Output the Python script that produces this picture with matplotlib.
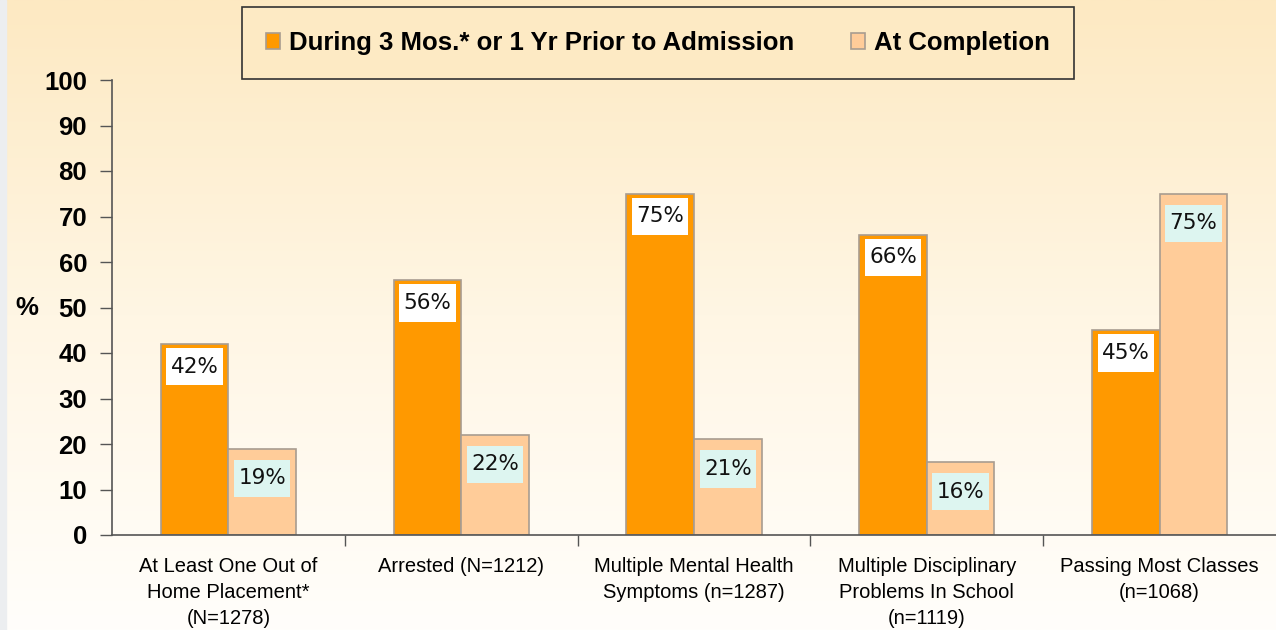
import matplotlib.pyplot as plt
import matplotlib.patches as patches
from matplotlib.colors import LinearSegmentedColormap
from matplotlib.path import Path
import numpy as np

# data
categories = [
    "At Least One Out of\nHome Placement*\n(N=1278)",
    "Arrested (N=1212)",
    "Multiple Mental Health\nSymptoms (n=1287)",
    "Multiple Disciplinary\nProblems In School\n(n=1119)",
    "Passing Most Classes\n(n=1068)",
]
before = [42, 56, 75, 66, 45]
after = [19, 22, 21, 16, 75]
series_names = ["During 3 Mos.* or 1 Yr Prior to Admission", "At Completion"]

orange = "#FF9900"
peach = "#FFCC99"
edge = "#A89C90"


def label_box(x0, y0, width, height, mutation_size):
    # tall, narrow padding like the original data labels
    px = 0.2 * mutation_size
    py = 0.4 * mutation_size
    return Path([(x0 - px, y0 - py), (x0 + width + px, y0 - py),
                 (x0 + width + px, y0 + height + py), (x0 - px, y0 + height + py),
                 (x0 - px, y0 - py)], closed=True)


fig = plt.figure(figsize=(12.76, 6.3), dpi=100)

# gradient background over the whole figure
bg = fig.add_axes([0, 0, 1, 1], zorder=-10)
grad_cmap = LinearSegmentedColormap.from_list("bg", ["#FFFEFB", "#FFF6E4", "#FDE9C2"])
bg.imshow(np.linspace(0, 1, 256).reshape(-1, 1), aspect="auto", cmap=grad_cmap,
          origin="lower", extent=[0, 1, 0, 1])
bg.add_patch(patches.Rectangle((0, 0), 0.005, 1, color="#ECEEF0", transform=bg.transAxes))
bg.axis("off")

ax = fig.add_axes([112 / 1276, 1 - 535 / 630, 1 - 112 / 1276, (535 - 80) / 630])
ax.patch.set_alpha(0)

x = np.arange(len(categories))
w = 0.29
b1 = ax.bar(x - w / 2, before, w, color=orange, edgecolor=edge, linewidth=1.2, label=series_names[0])
b2 = ax.bar(x + w / 2, after, w, color=peach, edgecolor=edge, linewidth=1.2, label=series_names[1])

for bars, vals, box_col, off in [(b1, before, "white", 5.0), (b2, after, "#DDF5F0", 6.5)]:
    for bar, v in zip(bars, vals):
        ax.text(bar.get_x() + bar.get_width() / 2, v - off, f"{v}%",
                ha="center", va="center", fontsize=15.5, family="DejaVu Sans", color="#111111",
                bbox=dict(boxstyle=label_box, facecolor=box_col, edgecolor="none"))

ax.set_xlim(-0.5, 4.5)
ax.set_ylim(0, 100)
ax.set_yticks(range(0, 101, 10))
ax.set_yticklabels([str(v) for v in range(0, 101, 10)], fontsize=18.5, fontweight="bold",
                   family="Liberation Sans")
ax.tick_params(axis="y", length=9, width=1, color="#555555", pad=9)

ax.set_xticks(x)
ax.set_xticklabels(categories, fontsize=14.5, family="Liberation Sans", linespacing=1.45)
ax.tick_params(axis="x", which="major", length=0, pad=16)
ax.set_xticks(np.arange(0.5, 4.5, 1), minor=True)
ax.tick_params(axis="x", which="minor", length=8, width=1, color="#555555")

for s in ["top", "right"]:
    ax.spines[s].set_visible(False)
for s in ["left", "bottom"]:
    ax.spines[s].set_color("#555555")
    ax.spines[s].set_linewidth(1.2)

fig.text(27 / 1276, 1 - 308 / 630, "%", fontsize=18.5, fontweight="bold", family="Liberation Sans",
         ha="center", va="center")

leg = fig.legend(handles=[b1, b2], loc="center", bbox_to_anchor=(658 / 1276, 1 - 43 / 630),
                 ncol=2, frameon=True, fancybox=False, prop=dict(family="Liberation Sans", weight="bold", size=18.5),
                 handlelength=0.55, handleheight=0.55, handletextpad=0.35, columnspacing=2.2,
                 borderpad=0.95)
frame = leg.get_frame()
frame.set_facecolor("#FDEAC4")
frame.set_edgecolor("#333333")
frame.set_linewidth(1.2)
frame.set_alpha(1)

fig.savefig("out.png", dpi=100)
